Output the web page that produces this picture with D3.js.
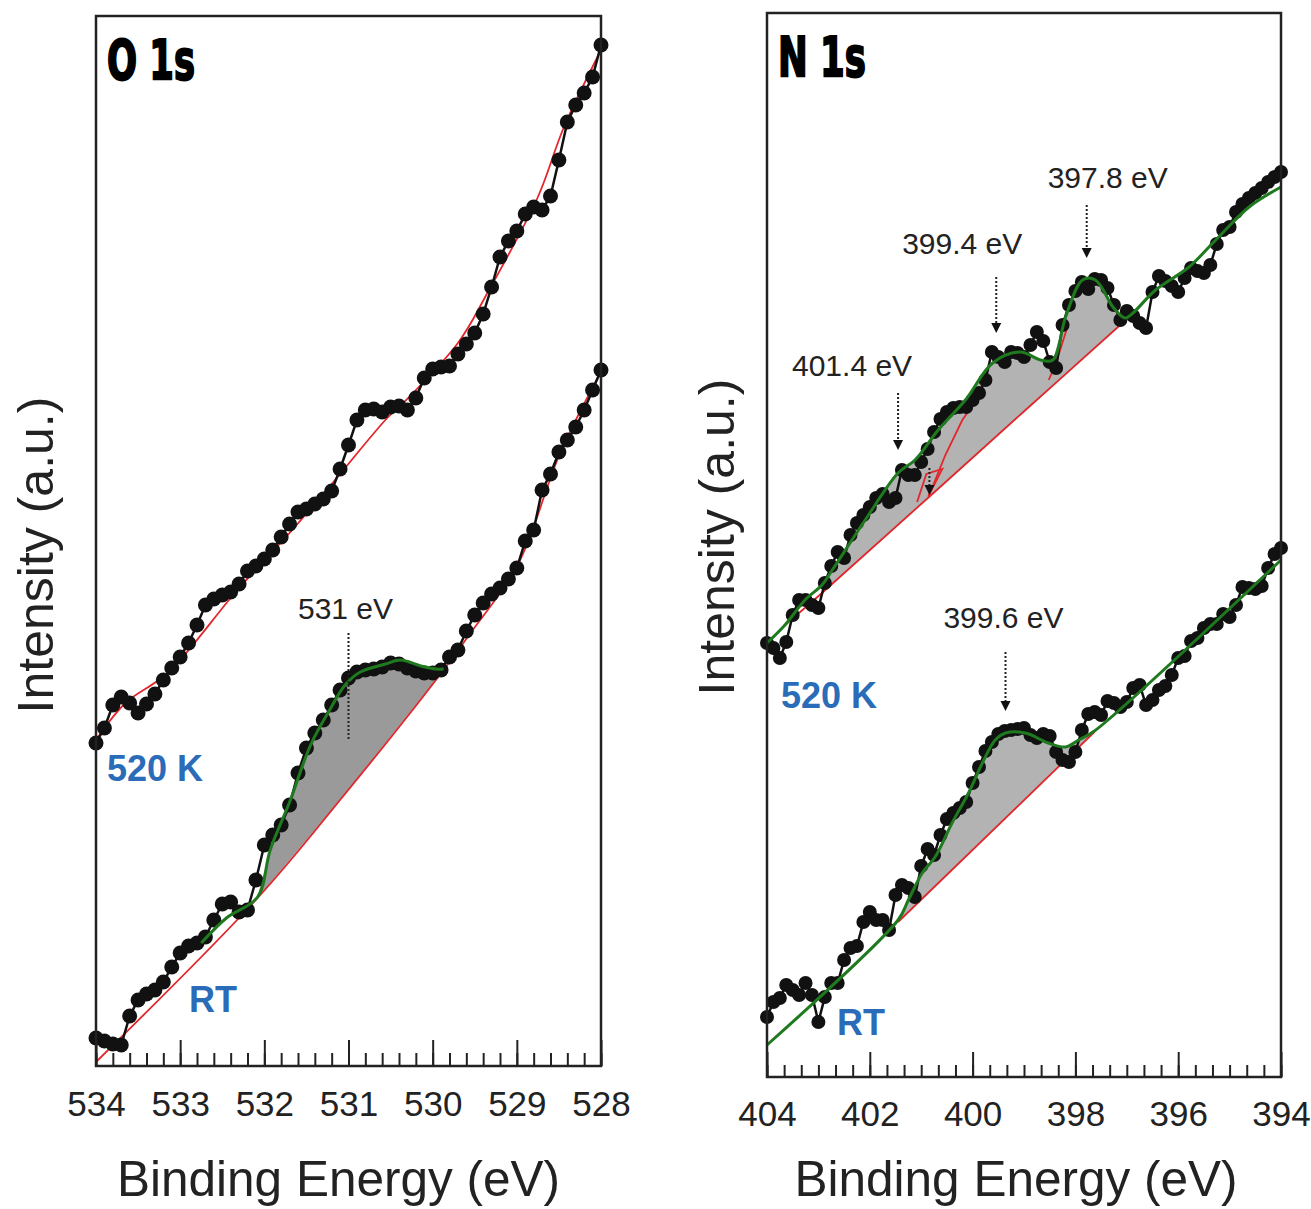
<!DOCTYPE html>
<html>
<head>
<meta charset="utf-8">
<script src="https://cdn.jsdelivr.net/npm/d3@7/dist/d3.min.js"></script>
<style>
body { margin: 0; background: #fff; }
text { font-family: "Liberation Sans", Arial, sans-serif; fill: #222; }
</style>
</head>
<body>
<svg width="1311" height="1209"></svg>
<script>
// O 1s panel: binding energy (eV) and intensities (a.u.)
var oEnergy = [534.0,533.9,533.8,533.7,533.6,533.5,533.4,533.3,533.2,533.1,533.0,532.9,532.8,532.7,532.6,532.5,532.4,532.3,532.2,532.1,
  532.0,531.9,531.8,531.7,531.6,531.5,531.4,531.3,531.2,531.1,531.0,530.9,530.8,530.7,530.6,530.5,530.4,530.3,530.2,530.1,
  530.0,529.9,529.8,529.7,529.6,529.5,529.4,529.3,529.2,529.1,529.0,528.9,528.8,528.7,528.6,528.5,528.4,528.3,528.2,528.1,528.0];
var o520 = [323,338,361,369,363,353,362,372,386,398,409,423,441,461,467,471,474,482,495,500,
  507,516,529,542,554,557,562,567,575,597,621,646,656,657,654,659,660,656,668,688,
  697,699,700,712,722,733,752,779,809,825,835,852,859,856,870,906,944,961,973,989,1021];
var oRT = [28,25,22,21,50,66,72,76,84,99,113,120,123,129,146,162,164,154,156,186,
  221,231,241,261,293,318,333,346,361,376,388,394,396,397,399,403,402,398,395,393,
  393,396,409,416,435,451,463,472,478,487,498,525,536,576,592,614,626,639,656,676,696];
var o520Base = [[534.0,326],[533.65,363],[533.15,393],[532.32,476],[531.69,534],[531.18,584],[530.54,648],
  [530.35,663],[529.70,723],[529.35,773],[528.75,869],[528.44,939],[528.0,1016]];
var oRTBase = [[534.0,4],[532.08,168],[531.10,266],[529.87,396],[529.55,433],[528.99,501],[528.48,614],[528.0,694]];
var oRTFit = [[532.75,123],[532.45,148],[532.08,169],[531.93,216],[531.69,266],[531.45,321],[531.21,358],[531.04,381],
  [530.86,394],[530.56,402],[530.38,406],[530.14,400],[529.96,397],[529.87,397]];
var oTicks = [534,533,532,531,530,529,528];

// N 1s panel
var nEnergy = [404,403.875,403.75,403.625,403.5,403.375,403.25,403.125,403,402.875,402.75,402.625,402.5,402.375,402.25,402.125,
  402,401.875,401.75,401.625,401.5,401.375,401.25,401.125,401,400.875,400.75,400.625,400.5,400.375,400.25,400.125,
  400,399.875,399.75,399.625,399.5,399.375,399.25,399.125,399,398.875,398.75,398.625,398.5,398.375,398.25,398.125,
  398,397.875,397.75,397.625,397.5,397.375,397.25,397.125,397,396.875,396.75,396.625,396.5,396.375,396.25,396.125,
  396,395.875,395.75,395.625,395.5,395.375,395.25,395.125,395,394.875,394.75,394.625,394.5,394.375,394.25,394.125,394];
var n520 = [434,429,419,435,462,477,477,472,469,494,511,525,519,542,554,562,570,579,583,575,
  579,607,602,602,615,628,645,658,665,669,670,670,677,684,697,725,720,715,725,724,
  720,732,745,736,715,709,752,772,786,795,788,798,797,789,772,757,766,761,754,749,
  785,801,796,791,785,799,809,806,804,812,833,847,850,865,873,879,884,889,895,900,905];
var nRT = [60,75,79,92,87,82,94,82,55,80,94,94,117,129,131,155,165,157,157,147,
  182,192,189,180,211,228,222,242,258,264,269,275,294,310,326,335,343,346,347,348,
  349,342,339,343,341,325,317,315,325,347,363,365,362,376,374,370,375,389,392,372,
  377,387,391,402,419,421,436,439,449,453,453,463,460,472,490,489,488,491,509,523,529];
var n520Fit = [[404.0,434],[403.65,452],[403.26,477],[402.93,492],[402.73,507],[402.09,557],[401.45,604],[401.12,617],
  [400.67,647],[400.14,677],[399.61,714],[399.07,725],[398.68,717],[398.44,717],[398.19,760],[397.86,797],
  [397.61,797],[397.27,770],[397.08,760],[397.02,759],[396.88,764],[396.44,787],[395.79,810],[395.27,837],[394.62,870],[394.0,890]];
var n520Base = [[403.65,452],[402.93,484],[398.97,667],[397.02,757]];
var n520Peaks = [
  [[401.08,575],[400.90,603],[400.59,608],[400.86,581]],
  [[400.86,580],[400.53,622],[400.20,657],[399.95,675]],
  [[398.52,697],[398.39,712],[398.13,754]]
];
var nRTFit = [[404.0,32],[401.45,157],[401.25,177],[400.98,204],[400.73,220],[400.40,254],[400.08,284],[399.81,314],
  [399.56,337],[399.36,344],[398.97,344],[398.53,334],[398.19,330],[397.94,337],[397.63,346],[394.0,517]];
var nRTBase = [[401.45,155],[397.63,345]];
var nTicks = [404,402,400,398,396,394];

var svg = d3.select("svg");
var blue = "#2b6cb8";

function zip(xs, ys) {
  return xs.map(function(d, i) { return [d, ys[i]]; });
}

function drawPanel(p) {
  var x = d3.scaleLinear().domain(p.xDomain).range([p.left, p.right]);
  var y = d3.scaleLinear().domain(p.yDomain).range([p.bottom, p.top]);
  var g = svg.append("g");

  var line = d3.line().x(function(d) { return x(d[0]); }).y(function(d) { return y(d[1]); });
  var smooth = d3.line().x(function(d) { return x(d[0]); }).y(function(d) { return y(d[1]); })
    .curve(d3.curveCatmullRom.alpha(0.5));

  // shaded peak areas between fit and background
  p.fills.forEach(function(f) {
    var top = f.fit.filter(function(d) { return d[0] <= f.from + 1e-6 && d[0] >= f.to - 1e-6; });
    var bot = f.base.filter(function(d) { return d[0] <= f.from + 1e-6 && d[0] >= f.to - 1e-6; }).slice().reverse();
    g.append("path")
      .attr("d", line(top.concat(bot)) + "Z")
      .attr("fill", p.fillColor)
      .attr("stroke", "none");
  });

  p.bases.forEach(function(b) {
    g.append("path").attr("d", smooth(b)).attr("fill", "none")
      .attr("stroke", "#e3262b").attr("stroke-width", 1.8);
  });
  (p.peaks || []).forEach(function(b) {
    g.append("path").attr("d", line(b)).attr("fill", "none")
      .attr("stroke", "#e3262b").attr("stroke-width", 1.8);
  });

  p.series.forEach(function(s) {
    g.append("path").attr("d", line(s)).attr("fill", "none")
      .attr("stroke", "#111").attr("stroke-width", 2.5);
    g.selectAll(null)
      .data(s)
      .enter()
      .append("circle")
      .attr("cx", function(d) { return x(d[0]); })
      .attr("cy", function(d) { return y(d[1]); })
      .attr("r", p.r)
      .attr("fill", "#111");
  });

  p.fits.forEach(function(f) {
    g.append("path").attr("d", smooth(f)).attr("fill", "none")
      .attr("stroke", "#1f7a1f").attr("stroke-width", 3);
  });

  // dotted markers
  p.marks.forEach(function(m) {
    g.append("line")
      .attr("x1", x(m.e)).attr("x2", x(m.e))
      .attr("y1", y(m.y1)).attr("y2", y(m.y2) - (m.head ? 8 : 0))
      .attr("stroke", "#222").attr("stroke-width", 2).attr("stroke-dasharray", "2,2");
    if (m.head) {
      var ax = x(m.e), ay = y(m.y2);
      g.append("path")
        .attr("d", "M" + (ax - 5) + "," + (ay - 10) + "L" + (ax + 5) + "," + (ay - 10) + "L" + ax + "," + ay + "Z")
        .attr("fill", "#111");
    }
    if (m.label) {
      g.append("text")
        .attr("x", x(m.e) + m.dx)
        .attr("y", y(m.y1) + m.dy)
        .attr("text-anchor", "middle")
        .attr("font-size", 30)
        .text(m.label);
    }
  });

  // frame
  g.append("rect")
    .attr("x", p.left).attr("y", p.top)
    .attr("width", p.right - p.left).attr("height", p.bottom - p.top)
    .attr("fill", "none").attr("stroke", "#222").attr("stroke-width", 2.5);

  var major = d3.axisBottom(x).tickValues(p.ticks).tickSize(-p.major)
    .tickPadding(p.pad).tickFormat(d3.format("d"));
  var minor = d3.axisBottom(x).tickValues(p.minors).tickSize(-p.minor).tickFormat("");
  var ga = g.append("g").attr("transform", "translate(0," + p.bottom + ")").call(major);
  var gm = g.append("g").attr("transform", "translate(0," + p.bottom + ")").call(minor);
  [ga, gm].forEach(function(a) {
    a.select(".domain").remove();
    a.selectAll("line").attr("stroke", "#222").attr("stroke-width", 2);
  });
  ga.selectAll("text")
    .attr("font-size", 35)
    .style("font-family", "'Liberation Sans', Arial, sans-serif")
    .attr("fill", "#222");

  g.append("text")
    .attr("x", (p.left + p.right) / 2 + p.titleDx)
    .attr("y", 1196)
    .attr("text-anchor", "middle")
    .attr("font-size", 49.5)
    .text("Binding Energy (eV)");

  g.append("text")
    .attr("transform", "translate(" + p.yTitleX + "," + p.yTitleY + ") rotate(-90)")
    .attr("text-anchor", "middle")
    .attr("font-size", 50)
    .text("Intensity (a.u.)");

  g.append("text")
    .attr("x", p.left + 11)
    .attr("y", p.top + 63)
    .attr("font-size", 56)
    .attr("font-weight", "bold")
    .attr("textLength", 88)
    .attr("lengthAdjust", "spacingAndGlyphs")
    .style("font-family", "'Liberation Sans Narrow', 'DejaVu Sans Condensed', sans-serif")
    .style("fill", "#000")
    .style("stroke", "#000")
    .style("stroke-width", 2)
    .text(p.name);

  p.tags.forEach(function(t) {
    g.append("text")
      .attr("x", t.x).attr("y", t.y)
      .attr("font-size", 36)
      .attr("font-weight", "bold")
      .style("fill", blue)
      .text(t.text);
  });
}

var oMinors = d3.range(0, 31).map(function(i) { return 528 + i * 0.2; });
var nMinors = d3.range(0, 31).map(function(i) { return 394 + i / 3; });

drawPanel({
  name: "O 1s",
  xDomain: [534, 528], yDomain: [0, 1050],
  left: 96, right: 601, top: 16, bottom: 1066,
  r: 7.5, fillColor: "#9a9a9a",
  series: [zip(oEnergy, o520), zip(oEnergy, oRT)],
  bases: [o520Base, oRTBase],
  fits: [oRTFit],
  fills: [{ fit: oRTFit, base: oRTBase, from: 532.08, to: 529.87 }],
  marks: [{ e: 531.0, y1: 433, y2: 326, head: false, label: "531 eV", dx: -3, dy: -14 }],
  ticks: oTicks, minors: oMinors, major: 26, minor: 13, pad: 25,
  titleDx: -10, yTitleX: 53, yTitleY: 555,
  tags: [{ text: "520 K", x: 107, y: 781 }, { text: "RT", x: 189, y: 1012 }]
});

drawPanel({
  name: "N 1s",
  xDomain: [404, 394], yDomain: [0, 1064],
  left: 767, right: 1281, top: 13, bottom: 1077,
  r: 7, fillColor: "#b3b3b3",
  series: [zip(nEnergy, n520), zip(nEnergy, nRT)],
  bases: [n520Base, nRTBase],
  peaks: n520Peaks,
  fits: [n520Fit, nRTFit],
  fills: [{ fit: n520Fit, base: n520Base, from: 402.93, to: 397.02 },
          { fit: nRTFit, base: nRTBase, from: 401.45, to: 397.63 }],
  marks: [
    { e: 401.45, y1: 684, y2: 627, head: true, label: "401.4 eV", dx: -46, dy: -17 },
    { e: 399.54, y1: 800, y2: 744, head: true, label: "399.4 eV", dx: -34, dy: -23 },
    { e: 397.78, y1: 872, y2: 819, head: true, label: "397.8 eV", dx: 21, dy: -17 },
    { e: 400.84, y1: 609, y2: 582, head: true, label: "", dx: 0, dy: 0 },
    { e: 399.36, y1: 425, y2: 366, head: true, label: "399.6 eV", dx: -2, dy: -24 }
  ],
  ticks: nTicks, minors: nMinors, major: 25, minor: 12, pad: 24,
  titleDx: -8, yTitleX: 734, yTitleY: 537,
  tags: [{ text: "520 K", x: 781, y: 708 }, { text: "RT", x: 837, y: 1035 }]
});
</script>
</body>
</html>
